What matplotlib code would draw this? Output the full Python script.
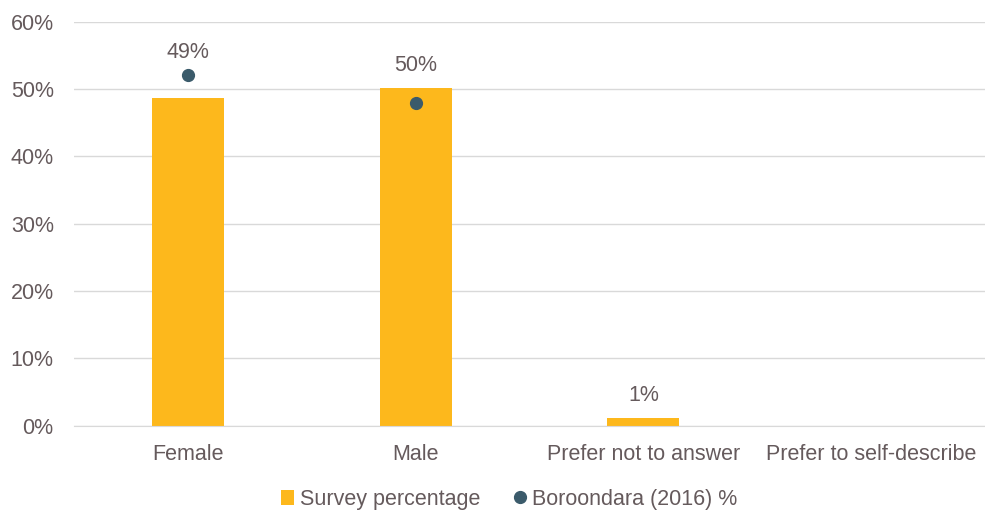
import numpy as np
import matplotlib
matplotlib.use('Agg')
import matplotlib.pyplot as plt

# Gender breakdown: survey respondents vs 2016 census
categories = ["Female", "Male", "Prefer not to answer", "Prefer to self-describe"]
survey_pct = [48.6, 50.1, 1.1, 0.0]
census_pct = [52.1, 47.9, np.nan, np.nan]

BAR_COLOR = "#FDB81C"
DOT_COLOR = "#3B5B6B"
TEXT_COLOR = "#655A5C"
GRID_COLOR = "#D9D9D9"
FS = 15.5

plt.rcParams['font.family'] = ['Liberation Sans', 'DejaVu Sans']

fig, ax = plt.subplots(figsize=(9.85, 5.13), dpi=100)
fig.subplots_adjust(left=0.075, right=1.0, top=0.958, bottom=0.17)

x = np.arange(len(categories))
bars = ax.bar(x, survey_pct, width=0.316, color=BAR_COLOR, label="Survey percentage", zorder=2)
dots, = ax.plot(x, census_pct, linestyle='none', marker='o', markersize=8.5,
                color=DOT_COLOR, label="Boroondara (2016) %", zorder=3)

# value labels sit above the taller of bar / census dot
for xi, v, c in zip(x, survey_pct, census_pct):
    if v > 0:
        top = v if np.isnan(c) else max(v, c)
        ax.text(xi, top + 1.8, f"{v:.0f}%", ha='center', va='bottom',
                fontsize=FS, color=TEXT_COLOR)

ax.set_xlim(-0.5, len(categories) - 0.5)
ax.set_ylim(0, 60)
ax.set_yticks(range(0, 61, 10))
ax.set_yticklabels([f"{t}%" for t in range(0, 61, 10)])
ax.set_xticks(x)
ax.set_xticklabels(categories)
ax.tick_params(axis='both', length=0, labelsize=FS, labelcolor=TEXT_COLOR)
ax.tick_params(axis='y', pad=14.5)
ax.tick_params(axis='x', pad=13)

ax.grid(axis='y', color=GRID_COLOR, linewidth=1, zorder=0)
for side in ['top', 'right', 'left']:
    ax.spines[side].set_visible(False)
ax.spines['bottom'].set_color(GRID_COLOR)

ax.legend([bars, dots], ["Survey percentage", "Boroondara (2016) %"],
          loc='upper center', bbox_to_anchor=(0.478, -0.108), ncol=2,
          frameon=False, fontsize=FS, handlelength=0.6, handletextpad=0.3,
          columnspacing=1.5, labelcolor=TEXT_COLOR)

plt.savefig("out.png", dpi=100)
plt.close()
